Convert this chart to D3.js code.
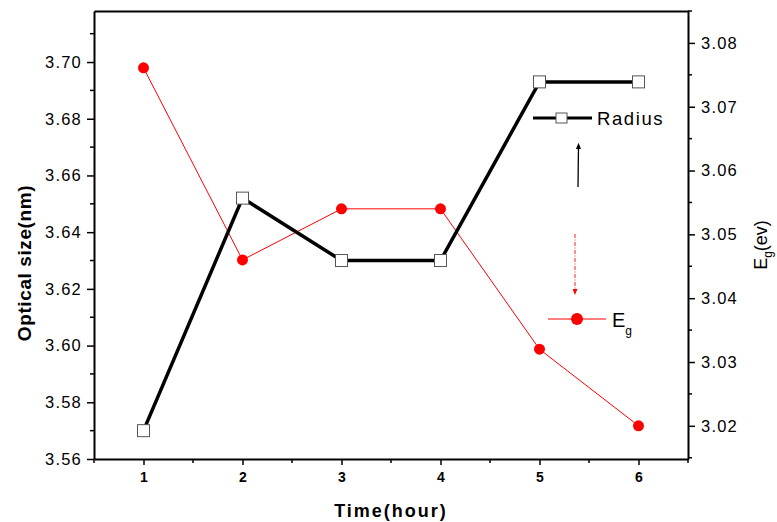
<!DOCTYPE html>
<html>
<head>
<meta charset="utf-8">
<script src="https://cdn.jsdelivr.net/npm/d3@7"></script>
<style>
  body { margin: 0; background: #fff; }
  svg { font-family: "Liberation Sans", Arial, sans-serif; }
</style>
</head>
<body>
<div id="chart"></div>
<script>
const hours = [1, 2, 3, 4, 5, 6];
const radius = [3.570, 3.652, 3.630, 3.630, 3.693, 3.693];
const eg = [3.0761, 3.046, 3.054, 3.054, 3.032, 3.020];
const leftTicks = [3.56, 3.58, 3.60, 3.62, 3.64, 3.66, 3.68, 3.70];
const rightTicks = [3.02, 3.03, 3.04, 3.05, 3.06, 3.07, 3.08];

const W = 777, H = 522;
const m = { t: 11, r: 89, b: 63, l: 94 };
const w = W - m.l - m.r, h = H - m.t - m.b;
const FONT = '"Liberation Sans", Arial, sans-serif';

const svg = d3.select('#chart').append('svg')
  .attr('width', W).attr('height', H);
const g = svg.append('g').attr('transform', 'translate(' + m.l + ',' + m.t + ')');

const x = d3.scaleLinear().domain([0.5, 6.5]).range([0, w]);
const yL = d3.scaleLinear().domain([3.56, 3.718]).range([h, 0]);
const yR = d3.scaleLinear().domain([3.0148, 3.085]).range([h, 0]);

// axes
function styleAxis(sel) {
  sel.selectAll('path').attr('stroke', '#000').attr('stroke-width', 2);
  sel.selectAll('line').attr('stroke', '#000').attr('stroke-width', 1.5);
}

const xAx = g.append('g').attr('transform', 'translate(0,' + h + ')')
  .call(d3.axisBottom(x).tickValues(hours).tickFormat(d3.format('d')).tickSize(6).tickSizeOuter(0).tickPadding(7));
styleAxis(xAx);
xAx.selectAll('text').attr('font-size', 14).attr('font-weight', 'bold').attr('fill', '#000')
  .attr('font-family', FONT);
xAx.append('g').selectAll('line').data([0.5, 1.5, 2.5, 3.5, 4.5, 5.5, 6.5]).join('line')
  .attr('x1', d => x(d)).attr('x2', d => x(d)).attr('y1', 0).attr('y2', 4)
  .attr('stroke', '#000').attr('stroke-width', 1.5);

const topAx = g.append('g')
  .call(d3.axisTop(x).tickValues([]).tickSizeOuter(0));
styleAxis(topAx);

const lAx = g.append('g')
  .call(d3.axisLeft(yL).tickValues(leftTicks).tickFormat(d3.format('.2f')).tickSize(7).tickSizeOuter(0).tickPadding(5));
styleAxis(lAx);
lAx.selectAll('text').attr('font-size', 16.5).attr('letter-spacing', 1.2).attr('fill', '#000')
  .attr('font-family', FONT);
lAx.append('g').selectAll('line').data(leftTicks.map(v => v + 0.01)).join('line')
  .attr('x1', 0).attr('x2', -4).attr('y1', d => yL(d)).attr('y2', d => yL(d))
  .attr('stroke', '#000').attr('stroke-width', 1.5);

const rAx = g.append('g').attr('transform', 'translate(' + w + ',0)')
  .call(d3.axisRight(yR).tickValues(rightTicks).tickFormat(d3.format('.2f')).tickSize(7).tickSizeOuter(0).tickPadding(6));
styleAxis(rAx);
rAx.selectAll('text').attr('font-size', 16.5).attr('letter-spacing', 1.2).attr('fill', '#000')
  .attr('font-family', FONT);
rAx.append('g').selectAll('line').data(rightTicks.map(v => v + 0.005).concat([3.015])).join('line')
  .attr('x1', 0).attr('x2', 4).attr('y1', d => yR(d)).attr('y2', d => yR(d))
  .attr('stroke', '#000').attr('stroke-width', 1.5);

// axis titles
svg.append('text')
  .attr('transform', 'translate(31,263) rotate(-90)')
  .attr('text-anchor', 'middle').attr('font-size', 19).attr('font-weight', 'bold')
  .attr('letter-spacing', 0.6)
  .text('Optical size(nm)');

svg.append('text')
  .attr('x', m.l + w / 2).attr('y', 517)
  .attr('text-anchor', 'middle').attr('font-size', 18).attr('font-weight', 'bold')
  .attr('letter-spacing', 2)
  .text('Time(hour)');

const eLab = svg.append('text')
  .attr('transform', 'translate(767,245) rotate(-90)')
  .attr('text-anchor', 'middle').attr('font-size', 18);
eLab.append('tspan').text('E');
eLab.append('tspan').attr('font-size', 12).attr('dy', 5).text('g');
eLab.append('tspan').attr('dy', -5).text('(ev)');

// Eg series
g.append('path').datum(hours)
  .attr('fill', 'none').attr('stroke', '#ff0000').attr('stroke-width', 1)
  .attr('d', d3.line().x(d => x(d)).y((d, i) => yR(eg[i])));
g.selectAll('.eg').data(hours).join('circle').attr('class', 'eg')
  .attr('cx', d => x(d)).attr('cy', (d, i) => yR(eg[i])).attr('r', 5.5)
  .attr('fill', '#ff0000');

// Radius series
g.append('path').datum(hours)
  .attr('fill', 'none').attr('stroke', '#000').attr('stroke-width', 3.5)
  .attr('d', d3.line().x(d => x(d)).y((d, i) => yL(radius[i])));
g.selectAll('.rad').data(hours).join('rect').attr('class', 'rad')
  .attr('x', d => x(d) - 6).attr('y', (d, i) => yL(radius[i]) - 6)
  .attr('width', 12).attr('height', 12)
  .attr('fill', '#fff').attr('stroke', '#555').attr('stroke-width', 1);

// legend + arrows
const defs = svg.append('defs');
defs.append('marker').attr('id', 'ab').attr('viewBox', '0 0 10 10')
  .attr('refX', 5).attr('refY', 5).attr('markerWidth', 5).attr('markerHeight', 7)
  .attr('orient', 'auto-start-reverse')
  .append('path').attr('d', 'M0,1 L10,5 L0,9 z').attr('fill', '#000');
defs.append('marker').attr('id', 'ar').attr('viewBox', '0 0 10 10')
  .attr('refX', 5).attr('refY', 5).attr('markerWidth', 5).attr('markerHeight', 7)
  .attr('orient', 'auto-start-reverse')
  .append('path').attr('d', 'M0,1 L10,5 L0,9 z').attr('fill', '#ff0000');

const lg = svg.append('g');
lg.append('line').attr('x1', 533).attr('x2', 592).attr('y1', 118).attr('y2', 118)
  .attr('stroke', '#000').attr('stroke-width', 3);
lg.append('rect').attr('x', 556).attr('y', 113).attr('width', 11).attr('height', 10)
  .attr('fill', '#fff').attr('stroke', '#555');
lg.append('text').attr('x', 597).attr('y', 125).attr('font-size', 18.5)
  .attr('letter-spacing', 1.6).text('Radius');

lg.append('line').attr('x1', 578).attr('x2', 578.5).attr('y1', 187).attr('y2', 146)
  .attr('stroke', '#000').attr('stroke-width', 1.3).attr('marker-end', 'url(#ab)');
lg.append('line').attr('x1', 575).attr('x2', 575).attr('y1', 234).attr('y2', 292)
  .attr('stroke', '#ff4444').attr('stroke-width', 1.2).attr('stroke-dasharray', '4,1.5,1,1.5')
  .attr('marker-end', 'url(#ar)');

lg.append('line').attr('x1', 548).attr('x2', 606).attr('y1', 319).attr('y2', 319)
  .attr('stroke', '#ff0000').attr('stroke-width', 1);
lg.append('circle').attr('cx', 577).attr('cy', 319).attr('r', 6).attr('fill', '#ff0000');
const el = lg.append('text').attr('x', 612).attr('y', 327).attr('font-size', 20);
el.append('tspan').text('E');
el.append('tspan').attr('font-size', 12).attr('dy', 8).text('g');
</script>
</body>
</html>
